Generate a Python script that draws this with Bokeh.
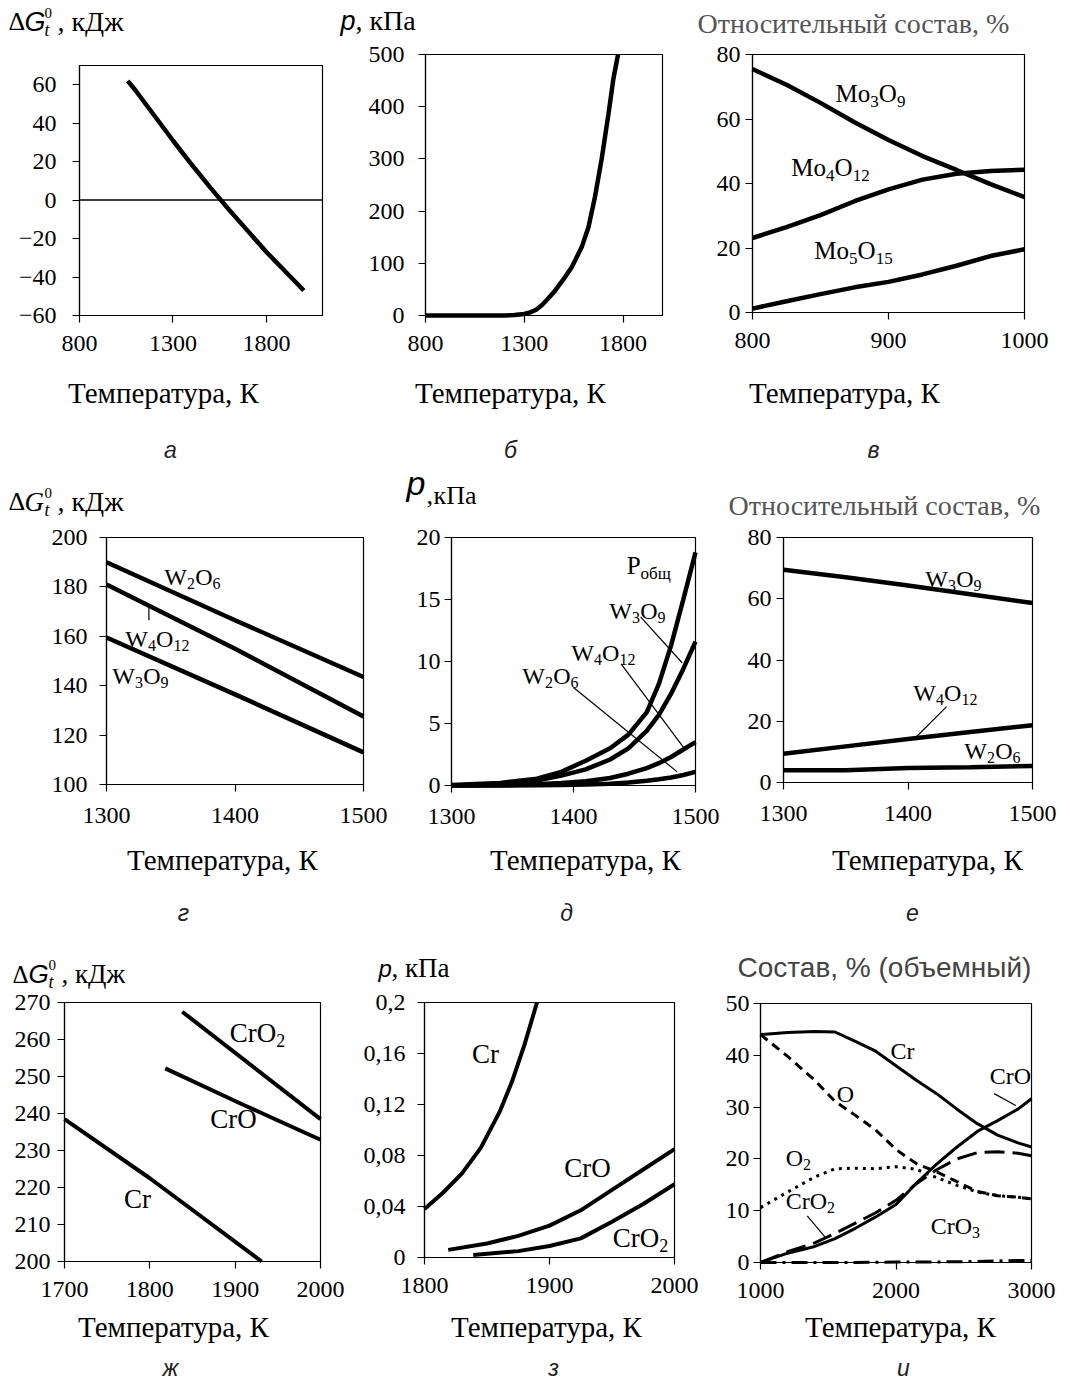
from bokeh.plotting import figure
from bokeh.layouts import row, column
from bokeh.models import Range1d, FixedTicker, Label, BoxAnnotation, CustomJSTickFormatter
from bokeh.embed import file_html
from bokeh.resources import INLINE

SERIF = "Liberation Serif"
SANS = "Liberation Sans"

# ---------------- data ----------------
# а: ΔG vs T
a_T = [1058, 1100, 1200, 1300, 1400, 1500, 1600, 1700, 1800, 1900, 2000]
a_G = [62, 57, 44, 31, 18.5, 6.5, -5, -16, -27, -37, -47]

# б: p vs T
b_T = [800, 1000, 1200, 1250, 1300, 1330, 1360, 1390, 1420, 1457, 1500, 1541, 1591, 1625, 1658, 1692, 1726, 1752, 1775]
b_p = [0, 0, 0, 1, 3, 6, 11, 20, 32, 48, 70, 93, 131, 169, 227, 300, 385, 455, 500]

# в: relative composition, Mo oxides
v_T = [800, 825, 850, 875, 900, 925, 950, 975, 1000]
v_mo3o9 = [75.5, 70.6, 65.0, 59.0, 53.5, 48.5, 44.2, 39.8, 35.8]
v_mo4o12 = [23.1, 26.5, 30.2, 34.5, 38.2, 41.2, 43.0, 43.9, 44.3]
v_mo5o15 = [1.2, 3.5, 5.7, 7.8, 9.5, 11.8, 14.5, 17.5, 19.6]

# г: ΔG, W oxides
g_T = [1300, 1400, 1500]
g_w2o6 = [190, 166.5, 143.5]
g_w4o12 = [181, 155, 127.5]
g_w3o9 = [159.5, 136.5, 113]

# д: pressures, W oxides
d_T = [1300, 1340, 1370, 1390, 1410, 1430, 1445, 1460, 1470, 1480, 1490, 1500]
d_total = [0.05, 0.2, 0.55, 1.1, 2.0, 3.0, 4.1, 5.9, 8.2, 11.3, 15.0, 18.8]
d_w3o9 = [0.0, 0.1, 0.4, 0.8, 1.3, 2.1, 3.0, 4.4, 5.7, 7.4, 9.4, 11.6]
d_w4o12 = [0.0, 0.03, 0.1, 0.2, 0.35, 0.6, 0.95, 1.4, 1.8, 2.3, 2.9, 3.5]
d_w2o6 = [0.0, 0.0, 0.02, 0.05, 0.08, 0.15, 0.25, 0.38, 0.5, 0.65, 0.85, 1.1]

# е: relative composition, W oxides
e_T = [1300, 1350, 1400, 1450, 1500]
e_w3o9 = [69.5, 67.0, 64.3, 61.5, 58.6]
e_w4o12 = [9.4, 11.8, 14.2, 16.5, 18.7]
e_w2o6 = [4.0, 4.0, 4.7, 5.0, 5.4]

# ж: ΔG, Cr species
zh_T_cro2 = [1838, 2000]
zh_cro2 = [267.5, 238.5]
zh_T_cro = [1818, 1910, 2000]
zh_cro = [252.2, 242.3, 232.9]
zh_T_cr = [1700, 1800, 1931]
zh_cr = [238.5, 222.5, 200]

# з: pressures, Cr species
z_T_cr = [1800, 1815, 1830, 1845, 1860, 1870, 1880, 1890]
z_cr = [0.038, 0.051, 0.066, 0.086, 0.114, 0.138, 0.167, 0.200]
z_T_cro = [1819, 1850, 1875, 1900, 1925, 1950, 1975, 2000]
z_cro = [0.006, 0.011, 0.017, 0.025, 0.037, 0.053, 0.069, 0.085]
z_T_cro2 = [1839, 1875, 1900, 1925, 1950, 1975, 2000]
z_cro2 = [0.002, 0.005, 0.009, 0.015, 0.028, 0.042, 0.0575]

# и: volume composition
i_T = [1000, 1200, 1400, 1550, 1700, 1850, 2000, 2150, 2300, 2450, 2600, 2750, 2900, 3000]
i_cr = [44.0, 44.4, 44.6, 44.5, 42.7, 40.8, 38.0, 35.2, 32.6, 29.6, 26.8, 24.6, 23.1, 22.3]
i_o = [44.0, 39.8, 35.2, 31.1, 28.4, 25.6, 21.8, 19.1, 17.5, 15.6, 13.7, 12.9, 12.6, 12.3]
i_o2 = [10.6, 13.6, 16.5, 18.1, 18.2, 18.1, 18.5, 18.0, 16.4, 14.9, 13.6, 12.9, 12.6, 12.3]
i_cro = [0.0, 1.8, 3.1, 4.6, 6.6, 8.8, 11.2, 15.3, 19.0, 22.3, 25.3, 27.4, 29.6, 31.6]
i_cro2 = [0.0, 2.1, 3.8, 5.6, 7.6, 9.6, 12.0, 15.2, 17.9, 20.0, 21.2, 21.4, 21.1, 20.6]
i_cro3 = [0.0, 0.0, 0.0, 0.0, 0.0, 0.05, 0.1, 0.1, 0.1, 0.15, 0.2, 0.3, 0.4, 0.4]

# leader lines (data coordinates)
g_lead = ([1333, 1333], [171.5, 166.5])
d_lead_w3o9 = ([1455, 1489], [13.6, 9.9])
d_lead_w4o12 = ([1439, 1490], [9.8, 3.1])
d_lead_w2o6 = ([1400, 1485], [7.9, 1.1])
e_lead_w4o12 = ([1431, 1406], [24.8, 14.6])
i_lead_cro = ([2724, 2884], [32.6, 30.3])
i_lead_cro2 = ([1345, 1480], [9.0, 4.8])

# tick values
a_xt, a_yt = [800, 1300, 1800], [-60, -40, -20, 0, 20, 40, 60]
b_xt, b_yt = [800, 1300, 1800], [0, 100, 200, 300, 400, 500]
v_xt, v_yt = [800, 900, 1000], [0, 20, 40, 60, 80]
g_xt, g_yt = [1300, 1400, 1500], [100, 120, 140, 160, 180, 200]
d_xt, d_yt = [1300, 1400, 1500], [0, 5, 10, 15, 20]
e_xt, e_yt = [1300, 1400, 1500], [0, 20, 40, 60, 80]
zh_xt, zh_yt = [1700, 1800, 1900, 2000], [200, 210, 220, 230, 240, 250, 260, 270]
z_xt, z_yt = [1800, 1900, 2000], [0, 0.04, 0.08, 0.12, 0.16, 0.2]
i_xt, i_yt = [1000, 2000, 3000], [0, 10, 20, 30, 40, 50]

# ---------------- geometry (page px): cell = whole figure, box = plot area ----------------
R1, R2, R3 = (0, 462), (462, 473), (935, 445)
GA = dict(cell=(0, R1[0], 330, R1[1]), box=(79, 65, 322, 315), xr=(800, 2100), yr=(-60, 70), ysd=16, xsd=13)
GB = dict(cell=(330, R1[0], 360, R1[1]), box=(425, 54, 662, 315), xr=(800, 2000), yr=(0, 500), ysd=14, xsd=13)
GV = dict(cell=(690, R1[0], 380, R1[1]), box=(752, 54, 1024, 312), xr=(800, 1000), yr=(0, 80), ysd=5, xsd=13)
GG = dict(cell=(0, R2[0], 400, R2[1]), box=(106, 537, 363, 784), xr=(1300, 1500), yr=(100, 200), ysd=12, xsd=16)
GD = dict(cell=(400, R2[0], 328, R2[1]), box=(451, 537, 695, 785), xr=(1300, 1500), yr=(0, 20), ysd=4, xsd=16)
GE = dict(cell=(728, R2[0], 342, R2[1]), box=(783, 537, 1032, 782), xr=(1300, 1500), yr=(0, 80), ysd=5, xsd=16)
GZH = dict(cell=(0, R3[0], 350, R3[1]), box=(64, 1002, 320, 1261), xr=(1700, 2000), yr=(200, 270), ysd=7, xsd=13)
GZ = dict(cell=(350, R3[0], 362, R3[1]), box=(424, 1002, 674, 1257), xr=(1800, 2000), yr=(0, 0.2), ysd=12, xsd=13)
GI = dict(cell=(712, R3[0], 358, R3[1]), box=(760, 1003, 1031, 1262), xr=(1000, 3000), yr=(0, 50), ysd=4, xsd=13)

TICK_FS = "24px"
BASE_FIX = 0.33   # Label text lands ~0.33 em below the requested alphabetic baseline


def make_fig(g, xt, yt):
    cx, cy, cw, ch = g["cell"]
    l, t, r, b = g["box"]
    x0, x1 = g["xr"]
    y0, y1 = g["yr"]
    sx = (x1 - x0) / (r - l)
    sy = (y1 - y0) / (b - t)
    p = figure(width=cw, height=ch,
               x_range=Range1d(x0 - (l - cx) * sx, x1 + (cx + cw - r) * sx),
               y_range=Range1d(y0 - (cy + ch - b) * sy, y1 + (t - cy) * sy),
               min_border_left=0, min_border_right=0, min_border_top=0, min_border_bottom=0,
               output_backend="svg", toolbar_location=None,
               background_fill_color="white", border_fill_color="white")
    p.grid.visible = False
    p.outline_line_color = None
    for ax in (p.xaxis[0], p.yaxis[0]):
        ax.axis_line_color = "black"
        ax.axis_line_width = 1.2
        ax.major_tick_line_color = "black"
        ax.major_tick_line_width = 1.2
        ax.major_tick_in = 0
        ax.major_tick_out = 7
        ax.minor_tick_line_color = None
        ax.major_label_text_font = SERIF
        ax.major_label_text_font_size = TICK_FS
        ax.major_label_text_color = "black"
    p.xaxis.fixed_location = y0
    p.xaxis.bounds = (x0, x1)
    p.yaxis.fixed_location = x0
    p.yaxis.bounds = (y0, y1)
    p.xaxis.ticker = FixedTicker(ticks=xt)
    p.yaxis.ticker = FixedTicker(ticks=yt)
    p.xaxis.major_label_standoff = g["xsd"]
    p.yaxis.major_label_standoff = g["ysd"]
    p.add_layout(BoxAnnotation(left=x0, right=x1, bottom=y0, top=y1, fill_color=None,
                               fill_alpha=0, line_color="black", line_width=1.2, line_alpha=1))
    return p


def to_data(g, px, py):
    l, t, r, b = g["box"]
    x0, x1 = g["xr"]
    y0, y1 = g["yr"]
    return x0 + (px - l) * (x1 - x0) / (r - l), y0 + (b - py) * (y1 - y0) / (b - t)


def seg(p, g, px, py, text, size, font=SERIF, style="normal", color="black", align="left"):
    x, y = to_data(g, px, py - BASE_FIX * size)
    p.add_layout(Label(x=x, y=y, text=text, text_font=font, text_font_size=f"{size}px",
                       text_font_style=style, text_color=color, text_align=align,
                       text_baseline="alphabetic"))


WID = {"M": .889, "o": .5, "O": .722, "W": .944, "C": .667, "r": .333, "P": .556,
       "б": .5, "щ": .75, "о": .5}


def parse(f):
    parts = []
    for ch in f:
        sub = ch.isdigit()
        if parts and parts[-1][1] == sub:
            parts[-1][0] += ch
        else:
            parts.append([ch, sub])
    return parts


def formula(p, g, cx, cy, f, F, parts=None):
    parts = parts or parse(f)
    SUBK = 0.68
    widths = [sum(WID.get(c, .5) for c in t) * (F * SUBK if s else F) for t, s in parts]
    x = cx - sum(widths) / 2
    base = cy + 0.33 * F
    for (t, s), w in zip(parts, widths):
        if s:
            seg(p, g, x, base + 0.2 * F, t, round(F * SUBK))
        else:
            seg(p, g, x, base, t, F)
        x += w


def xtitle(p, g, cx, by, size=29):
    seg(p, g, cx, by, "Температура, К", size, align="center")


def letter(p, g, cx, by, txt):
    seg(p, g, cx, by, txt, 23, font=SANS, style="italic", color="#222", align="center")


def dG_title(p, g, x, by, gfont=SANS, big=26):
    seg(p, g, x, by, "Δ", big)
    seg(p, g, x + 16, by, "G", big + 1, font=gfont, style="italic")
    seg(p, g, x + 36, by - 13, "0", 15)
    seg(p, g, x + 36, by + 5, "t", 18, style="italic")
    seg(p, g, x + 49, by, ", кДж", big + 2)


LW = 4.5
K = "black"

# ---------------- а ----------------
pa = make_fig(GA, a_xt, a_yt)
pa.line(list(GA["xr"]), [0, 0], line_color=K, line_width=1.5)
pa.line(a_T, a_G, line_color=K, line_width=LW)
dG_title(pa, GA, 8, 30)
xtitle(pa, GA, 163, 402)
letter(pa, GA, 170, 457, "а")

# ---------------- б ----------------
pb = make_fig(GB, b_xt, b_yt)
pb.line(b_T, b_p, line_color=K, line_width=LW)
seg(pb, GB, 340, 29, "p", 27, font=SANS, style="italic")
seg(pb, GB, 355, 29, ", кПа", 28)
xtitle(pb, GB, 510, 402)
letter(pb, GB, 510, 457, "б")

# ---------------- в ----------------
pv = make_fig(GV, v_xt, v_yt)
for ys in (v_mo3o9, v_mo4o12, v_mo5o15):
    pv.line(v_T, ys, line_color=K, line_width=LW)
formula(pv, GV, 870, 93, "Mo3O9", 25)
formula(pv, GV, 830, 167, "Mo4O12", 25)
formula(pv, GV, 853, 250, "Mo5O15", 25)
seg(pv, GV, 697, 32, "Относительный состав, %", 28, color="#555")
xtitle(pv, GV, 844, 402)
letter(pv, GV, 873, 457, "в")

# ---------------- г ----------------
pg = make_fig(GG, g_xt, g_yt)
for ys in (g_w2o6, g_w4o12, g_w3o9):
    pg.line(g_T, ys, line_color=K, line_width=LW)
pg.line(*g_lead, line_color=K, line_width=1.2)
formula(pg, GG, 192, 576, "W2O6", 24)
formula(pg, GG, 157, 638, "W4O12", 24)
formula(pg, GG, 140, 675, "W3O9", 24)
dG_title(pg, GG, 8, 510, gfont=SERIF)
xtitle(pg, GG, 222, 869)
letter(pg, GG, 183, 920, "г")

# ---------------- д ----------------
pd = make_fig(GD, d_xt, d_yt)
for ys in (d_total, d_w3o9, d_w4o12, d_w2o6):
    pd.line(d_T, ys, line_color=K, line_width=LW)
for ld in (d_lead_w3o9, d_lead_w4o12, d_lead_w2o6):
    pd.line(*ld, line_color=K, line_width=1.2)
formula(pd, GD, 648, 565, "", 25, parts=[["P", False], ["общ", True]])
formula(pd, GD, 637, 610, "W3O9", 24)
formula(pd, GD, 603, 652, "W4O12", 24)
formula(pd, GD, 550, 675, "W2O6", 24)
seg(pd, GD, 406, 494, "p", 34, font=SANS, style="italic")
seg(pd, GD, 426, 504, ",", 26)
seg(pd, GD, 433, 504, "кПа", 26)
xtitle(pd, GD, 585, 869)
letter(pd, GD, 566, 920, "д")

# ---------------- е ----------------
pe = make_fig(GE, e_xt, e_yt)
for ys in (e_w3o9, e_w4o12, e_w2o6):
    pe.line(e_T, ys, line_color=K, line_width=LW)
pe.line(*e_lead_w4o12, line_color=K, line_width=1.2)
formula(pe, GE, 953, 578, "W3O9", 24)
formula(pe, GE, 945, 692, "W4O12", 24)
formula(pe, GE, 992, 750, "W2O6", 24)
seg(pe, GE, 728, 514, "Относительный состав, %", 28, color="#555")
xtitle(pe, GE, 927, 869)
letter(pe, GE, 912, 920, "е")

# ---------------- ж ----------------
pzh = make_fig(GZH, zh_xt, zh_yt)
pzh.line(zh_T_cro2, zh_cro2, line_color=K, line_width=4)
pzh.line(zh_T_cro, zh_cro, line_color=K, line_width=4)
pzh.line(zh_T_cr, zh_cr, line_color=K, line_width=4)
formula(pzh, GZH, 257, 1032, "CrO2", 27)
formula(pzh, GZH, 233, 1118, "CrO", 27)
formula(pzh, GZH, 137, 1198, "Cr", 27)
dG_title(pzh, GZH, 12, 982, big=25)
xtitle(pzh, GZH, 173, 1336)
letter(pzh, GZH, 170, 1375, "ж")

# ---------------- з ----------------
pz = make_fig(GZ, z_xt, z_yt)
pz.yaxis.formatter = CustomJSTickFormatter(code="""
if (tick == 0) { return '0'; }
return (Math.round(tick * 100) / 100).toString().replace('.', ',');
""")
pz.line(z_T_cr, z_cr, line_color=K, line_width=4)
pz.line(z_T_cro, z_cro, line_color=K, line_width=4)
pz.line(z_T_cro2, z_cro2, line_color=K, line_width=4)
formula(pz, GZ, 485, 1053, "Cr", 27)
formula(pz, GZ, 587, 1167, "CrO", 27)
formula(pz, GZ, 640, 1237, "CrO2", 27)
seg(pz, GZ, 378, 976, "p", 24, font=SANS, style="italic")
seg(pz, GZ, 391, 976, ", кПа", 27)
xtitle(pz, GZ, 546, 1336)
letter(pz, GZ, 553, 1375, "з")

# ---------------- и ----------------
pi = make_fig(GI, i_xt, i_yt)
pi.line(i_T, i_cr, line_color=K, line_width=3)
pi.line(i_T, i_o, line_color=K, line_width=3, line_dash="9 6")
pi.line(i_T, i_o2, line_color=K, line_width=3, line_dash="3 5")
pi.line(i_T, i_cro, line_color=K, line_width=3)
pi.line(i_T, i_cro2, line_color=K, line_width=3, line_dash="20 8")
pi.line(i_T, i_cro3, line_color=K, line_width=3, line_dash="16 6 3 6")
for ld in (i_lead_cro, i_lead_cro2):
    pi.line(*ld, line_color=K, line_width=1.2)
formula(pi, GI, 902, 1050, "Cr", 24)
formula(pi, GI, 845, 1093, "O", 24)
formula(pi, GI, 798, 1157, "O2", 24)
formula(pi, GI, 810, 1200, "CrO2", 24)
formula(pi, GI, 955, 1225, "CrO3", 24)
formula(pi, GI, 1010, 1075, "CrO", 24)
seg(pi, GI, 737, 976, "Состав, % (объемный)", 28, font=SANS, color="#444")
xtitle(pi, GI, 900, 1336)
letter(pi, GI, 903, 1375, "и")

layout = column(row(pa, pb, pv), row(pg, pd, pe), row(pzh, pz, pi))
open("out.html", "w").write(file_html(layout, INLINE))
